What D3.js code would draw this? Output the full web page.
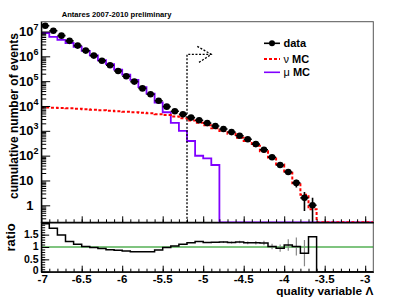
<!DOCTYPE html>
<html><head><meta charset="utf-8">
<script src="https://cdn.jsdelivr.net/npm/d3@7"></script>
<style>
body{margin:0;background:#fff}
svg{display:block}
text{font-family:"Liberation Sans",Arial,Helvetica,sans-serif;font-weight:bold;fill:#000}
</style>
</head><body>
<svg id="c" width="415" height="298"></svg>
<script>
// ---------------- data ----------------
const binCenters = [-6.95,-6.85,-6.75,-6.65,-6.55,-6.45,-6.35,-6.25,-6.15,-6.05,
  -5.95,-5.85,-5.75,-5.65,-5.55,-5.45,-5.35,-5.25,-5.15,-5.05,
  -4.95,-4.85,-4.75,-4.65,-4.55,-4.45,-4.35,-4.25,-4.15,-4.05,
  -3.95,-3.85,-3.75,-3.65,-3.55,-3.45,-3.35,-3.25,-3.15,-3.05,-2.95];
const binHalfWidth = 0.05;

const dataCounts = [1.7e7,1.07e7,6.8e6,4.2e6,2.7e6,1.7e6,1.07e6,6.6e5,4.4e5,2.57e5,
  1.58e5,9.6e4,5.1e4,2.95e4,1.63e4,9400,6100,4600,3400,2650,
  2050,1560,1180,890,635,455,292,173,86,42,
  22,8,2,1];
const dataErr = [4123,3271,2608,2049,1643,1304,1034,812,663,507,
  397,310,226,172,128,97,78,68,58,51,
  45,39.5,34.4,29.8,25.2,21.3,17.1,13.2,9.3,6.5,
  4.7,2.8,1.41,1];

const nuMC = [8700,8500,8300,8100,7750,7400,7050,6700,6400,6100,
  5850,5600,5350,5050,4700,4300,3800,3200,2600,2100,
  1660,1270,983,754,529,389,250,149,84,44,
  20.4,7.8,2.67,0.7,0,0,0,0,0,0,0];
const muMC = [8.7e6,6.08e6,4.56e6,3.44e6,2.43e6,1.66e6,1.085e6,6.95e5,4.88e5,2.89e5,
  1.82e5,1.13e5,5.76e4,3.14e4,1.38e4,5600,2100,1000,390,99,
  78,42,0,0,0,0,0,0,0,0,
  0,0,0,0,0,0,0,0,0,0,0];

const ratio = [1.94,1.76,1.49,1.22,1.11,1.02,0.98,0.94,0.89,0.87,
  0.84,0.81,0.81,0.81,0.88,0.98,1.04,1.11,1.17,1.22,
  1.18,1.19,1.2,1.18,1.2,1.17,1.17,1.16,1.02,0.95,
  1.08,1.02,0.75,1.42,0,0,0,0,0,0,0];
const ratioErr = [0,0,0,0,0,0,0,0,0,0,
  0,0,0,0,0,0,0,0,0,0,
  0,0,0.035,0.04,0.048,0.055,0.068,0.088,0.11,0.147,
  0.23,0.36,0.53,0,0,0,0,0,0,0,0];

const cutValue = -5.2, arrowEnd = -4.9, arrowLevel = 1.2e6;

const xTicksMajor = [-7,-6.5,-6,-5.5,-5,-4.5,-4,-3.5,-3];
const xTickLabels = ["-7","-6.5","-6","-5.5","-5","-4.5","-4","-3.5","-3"];
const yDecades = [0,1,2,3,4,5,6,7];
const ratioTicks = [0,0.5,1,1.5];
const ratioTickLabels = ["0","0.5","1","1.5"];

const titleText = "Antares 2007-2010 preliminary";
const yTitle = "cumulative number of events";
const xTitle = "quality variable \u039B";
const ratioTitle = "ratio";
const legendLabels = [["","data"],["\u03BD"," MC"],["\u03BC"," MC"]];

// ---------------- layout ----------------
const X0 = 41.2, X1 = 373.3, YT = 21.7, YM = 222.3, YB = 271.7;
const svg = d3.select("#c");
const x = d3.scaleLinear().domain([-7, -2.9]).range([X0, X1]);
const yMin = 0.207, yMax = 2.48e7;
const y = d3.scaleLog().domain([yMin, yMax]).range([YM, YT]);
const yr = d3.scaleLinear().domain([0, 2]).range([YB, YM]);
const yc = v => y(Math.max(v, yMin));

const colRed = "#ff0000", colPurple = "#8000ff", colGreen = "#008a00";

svg.append("defs").append("clipPath").attr("id","cu")
  .append("rect").attr("x",X0).attr("y",YT).attr("width",X1-X0).attr("height",YM-YT);
svg.select("defs").append("clipPath").attr("id","cl")
  .append("rect").attr("x",X0).attr("y",YM).attr("width",X1-X0).attr("height",YB-YM);

svg.append("rect").attr("x",X0).attr("y",YT).attr("width",X1-X0).attr("height",YM-YT)
  .attr("fill","none").attr("stroke","#555").attr("stroke-width",1);
svg.append("rect").attr("x",X0).attr("y",YM).attr("width",X1-X0).attr("height",YB-YM)
  .attr("fill","none").attr("stroke","#555").attr("stroke-width",1);

function stepPts(vals, f) {
  const pts = [];
  vals.forEach((v,i) => {
    pts.push([x(binCenters[i]-binHalfWidth), f(v)]);
    pts.push([x(binCenters[i]+binHalfWidth), f(v)]);
  });
  return pts;
}
const line = d3.line();

const gu = svg.append("g").attr("clip-path","url(#cu)");
gu.append("path").attr("d", line(stepPts(muMC, yc)))
  .attr("fill","none").attr("stroke",colPurple).attr("stroke-width",1.8);
gu.append("path").attr("d", line(stepPts(nuMC, yc)))
  .attr("fill","none").attr("stroke",colRed).attr("stroke-width",2)
  .attr("stroke-dasharray","3,2");

const gd = gu.append("g");
dataCounts.forEach((v,i) => {
  const cx = x(binCenters[i]), cy = y(v);
  gd.append("line").attr("x1",x(binCenters[i]-binHalfWidth)).attr("x2",x(binCenters[i]+binHalfWidth))
    .attr("y1",cy).attr("y2",cy).attr("stroke","#000").attr("stroke-width",1.6);
  gd.append("line").attr("x1",cx).attr("x2",cx)
    .attr("y1",yc(v-dataErr[i])).attr("y2",y(v+dataErr[i]))
    .attr("stroke","#000").attr("stroke-width",1.6);
  gd.append("circle").attr("cx",cx).attr("cy",cy).attr("r",3.3).attr("fill","#000");
});

const gc = svg.append("g").attr("fill","none").attr("stroke","#000")
  .attr("stroke-width",1.3).attr("stroke-dasharray","2,1.6");
gc.append("path").attr("d", line([[x(cutValue),YM],[x(cutValue),y(arrowLevel)],[x(arrowEnd),y(arrowLevel)]]));
gc.append("path").attr("d", line([[x(arrowEnd)-14,y(arrowLevel)-8],[x(arrowEnd),y(arrowLevel)],[x(arrowEnd)-13,y(arrowLevel)+8.5]]));

const xMinor = d3.range(0,41).map(k => -7 + k*0.1);
svg.append("g").attr("transform",`translate(0,${YM})`)
  .call(d3.axisBottom(x).tickValues(xMinor).tickSize(-3).tickSizeOuter(0).tickFormat(""));
svg.append("g").attr("transform",`translate(0,${YM})`)
  .call(d3.axisBottom(x).tickValues(xTicksMajor).tickSize(-6).tickSizeOuter(0).tickFormat(""));
const yMinorVals = [];
for (let d=-1; d<=7; d++) for (let m=2; m<=9; m++) {
  const v = m*Math.pow(10,d);
  if (v>yMin && v<yMax) yMinorVals.push(v);
}
svg.append("g").attr("transform",`translate(${X0},0)`)
  .call(d3.axisLeft(y).tickValues(yMinorVals).tickSize(-5).tickSizeOuter(0).tickFormat(""));
svg.append("g").attr("transform",`translate(${X0},0)`)
  .call(d3.axisLeft(y).tickValues(yDecades.map(d=>Math.pow(10,d))).tickSize(-9).tickSizeOuter(0).tickFormat(""));
yDecades.forEach(d => {
  const t = svg.append("text").attr("x",33.5).attr("y",y(Math.pow(10,d))+4.6)
    .attr("font-size",13);
  if (d===0) t.attr("text-anchor","end").text("1");
  else if (d===1) t.attr("text-anchor","end").text("10");
  else {
    t.attr("text-anchor","start").attr("x",33.5-14.5);
    t.append("tspan").text("10");
    t.append("tspan").attr("font-size",9).attr("dy",-6).text(String(d));
  }
});
svg.append("text").attr("transform",`translate(17.5,33) rotate(-90)`)
  .attr("text-anchor","end").attr("font-size",12).text(yTitle);

svg.append("text").attr("x",61.7).attr("y",17.3).attr("font-size",7.6).text(titleText);

const lgX = 264, lgY = [43.3, 59, 72.3];
svg.append("line").attr("x1",lgX).attr("x2",lgX+16).attr("y1",lgY[0]).attr("y2",lgY[0])
  .attr("stroke","#000").attr("stroke-width",1.6);
svg.append("circle").attr("cx",lgX+8).attr("cy",lgY[0]).attr("r",3).attr("fill","#000");
svg.append("line").attr("x1",lgX).attr("x2",lgX+16).attr("y1",lgY[1]).attr("y2",lgY[1])
  .attr("stroke",colRed).attr("stroke-width",2).attr("stroke-dasharray","3,2");
svg.append("line").attr("x1",lgX).attr("x2",lgX+16).attr("y1",lgY[2]).attr("y2",lgY[2])
  .attr("stroke",colPurple).attr("stroke-width",1.6);
legendLabels.forEach((l,i) => {
  const t = svg.append("text").attr("x",lgX+19.5).attr("y",lgY[i]+4).attr("font-size",11);
  if (l[0]) t.append("tspan").attr("font-weight","normal").text(l[0]);
  t.append("tspan").text(l[1]);
});

// ---------------- lower pad ----------------
const gl = svg.append("g").attr("clip-path","url(#cl)");
gl.append("line").attr("x1",X0).attr("x2",X1).attr("y1",yr(1)).attr("y2",yr(1))
  .attr("stroke",colGreen).attr("stroke-width",1.2);
ratio.forEach((r,i) => {
  if (ratioErr[i] > 0) {
    gl.append("line").attr("x1",x(binCenters[i])).attr("x2",x(binCenters[i]))
      .attr("y1",yr(r-ratioErr[i])).attr("y2",yr(r+ratioErr[i]))
      .attr("stroke","#888").attr("stroke-width",1.2);
  }
});
gl.append("path").attr("d", line(stepPts(ratio, yr)))
  .attr("fill","none").attr("stroke","#000").attr("stroke-width",1.5);

const ratioMinor = d3.range(0,20).map(k=>k*0.1);
svg.append("g").attr("transform",`translate(0,${YB})`)
  .call(d3.axisBottom(x).tickValues(xMinor).tickSize(-3).tickSizeOuter(0).tickFormat(""));
svg.append("g").attr("transform",`translate(0,${YB})`)
  .call(d3.axisBottom(x).tickValues(xTicksMajor).tickSize(-6).tickSizeOuter(0).tickFormat(""));
svg.append("g").attr("transform",`translate(${X0},0)`)
  .call(d3.axisLeft(yr).tickValues(ratioMinor).tickSize(-4).tickSizeOuter(0).tickFormat(""));
svg.append("g").attr("transform",`translate(${X0},0)`)
  .call(d3.axisLeft(yr).tickValues(ratioTicks).tickSize(-8).tickSizeOuter(0).tickFormat(""));
ratioTicks.forEach((v,i) => {
  svg.append("text").attr("x",38.5).attr("y",yr(v)+3.4 - (v===0?1.6:0)).attr("text-anchor","end")
    .attr("font-size",10.5).text(ratioTickLabels[i]);
});
xTicksMajor.forEach((v,i) => {
  svg.append("text").attr("x",x(v) + (i===0?1.5:0)).attr("y",283).attr("text-anchor","middle")
    .attr("font-size",11.5).text(xTickLabels[i]);
});
svg.append("text").attr("transform",`translate(15,223.3) rotate(-90)`)
  .attr("text-anchor","end").attr("font-size",13).text(ratioTitle);
svg.append("text").attr("x",X1).attr("y",295.3).attr("text-anchor","end")
  .attr("font-size",11.8).text(xTitle);

svg.selectAll(".domain").attr("stroke","#000");
</script>
</body></html>
